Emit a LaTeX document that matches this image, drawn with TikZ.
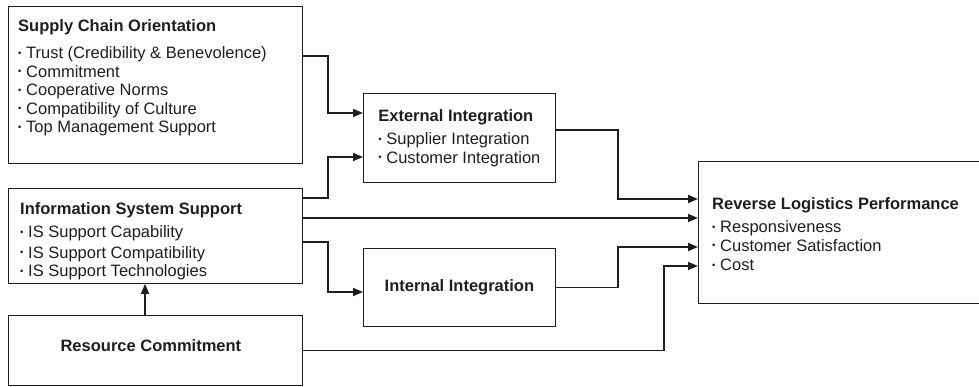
\documentclass[tikz,border=0pt]{standalone}
\usepackage{fontspec}
\setmainfont{Liberation Sans}
\usetikzlibrary{arrows.meta,positioning}
\definecolor{ink}{HTML}{1E1E1E}
\newcommand{\bul}{\makebox[8pt][l]{\raisebox{2.4pt}{\fontsize{9.5}{9.5}\selectfont\textbullet}}}

\begin{document}
\begin{tikzpicture}[
  x=1pt, y=1pt,
  every node/.style={font=\fontsize{16.5}{18.5}\selectfont, text=ink},
  box/.style={rectangle, draw=ink, line width=0.8pt, anchor=north west,
    align=left, inner sep=0pt},
  txt/.style={inner sep=0pt, align=left},
  arrow/.style={-{Triangle[length=10pt,width=8pt]}, line width=1.7pt, ink},
]
\useasboundingbox (0,0) rectangle (979,-387);
\clip (0,0) rectangle (979,-387);

% Antecedents
\node[box, minimum width=294pt, minimum height=157pt] (sco) at (8,-6) {};
\node[txt, below right=13pt and 10pt of sco.north west] (scoText)
  {\textbf{Supply Chain Orientation}\\[9pt]
   \bul Trust (Credibility \& Benevolence)\\
   \bul Commitment\\
   \bul Cooperative Norms\\
   \bul Compatibility of Culture\\
   \bul Top Management Support};
\node[box, minimum width=294pt, minimum height=95pt] (iss) at (8,-188) {};
\node[txt, below right=14pt and 12pt of iss.north west] (issText)
  {\textbf{Information System Support}\\[5pt]
   \bul IS Support Capability\\[2pt]
   \bul IS Support Compatibility\\
   \bul IS Support Technologies};
\node[box, minimum width=294pt, minimum height=70pt] (rc) at (8,-315) {};
\node[txt, above left=-1pt and -86pt of rc.center] (rcText)
  {\textbf{Resource Commitment}};

% Integration
\node[box, minimum width=192pt, minimum height=89pt] (ext) at (363,-93)
  {\textbf{External Integration}\\[5pt]
   \bul Supplier Integration\\
   \bul Customer Integration};
\node[box, minimum width=192pt, minimum height=78pt] (int) at (363,-248)
  {\textbf{Internal Integration}};

% Outcome
\node[box, minimum width=292pt, minimum height=142pt] (rlp) at (698,-161) {};
\node[txt, below right=36pt and 14pt of rlp.north west] (rlpText)
  {\textbf{Reverse Logistics Performance}\\[5pt]
   \bul Responsiveness\\
   \bul Customer Satisfaction\\[1pt]
   \bul Cost};

% Arrows
\draw[arrow] ([yshift=-50pt]sco.north east) -- ++(25,0) |- ([yshift=-20pt]ext.north west);
\draw[arrow] ([yshift=-10pt]iss.north east) -- ++(25,0) |- ([yshift=-64pt]ext.north west);
\draw[arrow] ([yshift=-30pt]iss.north east) -- ([yshift=-57pt]rlp.north west);
\draw[arrow] ([yshift=-54pt]iss.north east) -- ++(25,0) |- ([yshift=-44pt]int.north west);
\draw[arrow] ([xshift=137pt]rc.north west) -- ([xshift=137pt]rc.north west |- iss.south);
\draw[arrow] (rc.east) -- ++(361,0) |- ([yshift=-105pt]rlp.north west);
\draw[arrow] ([yshift=-37pt]ext.north east) -- ++(62,0) |- ([yshift=-38pt]rlp.north west);
\draw[arrow] (int.east) -- ++(62,0) |- ([yshift=-86pt]rlp.north west);
\end{tikzpicture}
\end{document}
